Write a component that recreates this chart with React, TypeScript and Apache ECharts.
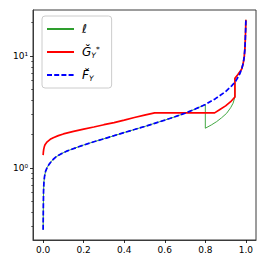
import React, { useEffect, useRef } from 'react';
import * as echarts from 'echarts';

// F̆_Y (blue dashed)
const blueX = [0, 0.001, 0.002, 0.004, 0.007, 0.012, 0.02, 0.03, 0.045, 0.065, 0.09, 0.12, 0.16, 0.2, 0.25, 0.3, 0.35, 0.4, 0.45, 0.5, 0.55, 0.6, 0.65, 0.7, 0.75, 0.8, 0.85, 0.9, 0.93, 0.95, 0.97, 0.98, 0.987, 0.992, 0.995, 0.997, 0.999, 1.0];
const blueY = [0.28, 0.45, 0.62, 0.75, 0.84, 0.93, 1.01, 1.08, 1.17, 1.26, 1.34, 1.42, 1.51, 1.6, 1.71, 1.82, 1.94, 2.07, 2.2, 2.34, 2.5, 2.67, 2.86, 3.08, 3.35, 3.68, 4.15, 4.8, 5.4, 5.95, 6.9, 7.7, 8.6, 9.8, 11.5, 13.5, 17.5, 21];

// Ğ*_Y (red)
const redX = [0, 0.001, 0.003, 0.006, 0.01, 0.02, 0.035, 0.05, 0.075, 0.1, 0.15, 0.2, 0.25, 0.3, 0.35, 0.4, 0.45, 0.5, 0.55, 0.846, 0.87, 0.9, 0.925, 0.946, 0.946, 0.96, 0.979, 0.987, 0.992, 0.995, 0.997, 0.999, 1.0];
const redY = [1.3, 1.38, 1.47, 1.55, 1.62, 1.71, 1.8, 1.86, 1.94, 2.01, 2.12, 2.22, 2.32, 2.43, 2.54, 2.67, 2.82, 2.96, 3.1, 3.1, 3.3, 3.58, 3.9, 4.3, 6.3, 6.8, 7.6, 8.6, 9.8, 11.5, 13.5, 17.5, 21];

// ℓ (green)
const greenX = [0, 0.001, 0.002, 0.004, 0.007, 0.012, 0.02, 0.03, 0.045, 0.065, 0.09, 0.12, 0.16, 0.2, 0.25, 0.3, 0.35, 0.4, 0.45, 0.5, 0.55, 0.6, 0.65, 0.7, 0.75, 0.8, 0.8, 0.83, 0.856, 0.88, 0.905, 0.925, 0.937, 0.946, 0.946, 0.96, 0.979, 0.987, 0.992, 0.995, 0.997, 0.999, 1.0];
const greenY = [0.28, 0.45, 0.62, 0.75, 0.84, 0.93, 1.01, 1.08, 1.17, 1.26, 1.34, 1.42, 1.51, 1.6, 1.71, 1.82, 1.94, 2.07, 2.2, 2.34, 2.5, 2.67, 2.86, 3.08, 3.35, 3.68, 2.26, 2.42, 2.59, 2.8, 3.07, 3.45, 3.78, 4.3, 6.3, 6.8, 7.6, 8.6, 9.8, 11.5, 13.5, 17.5, 21];

const xTicks = [0, 0.2, 0.4, 0.6, 0.8, 1.0];
const yMajorTicks = [1, 10];
const yMinorTicks = [0.3, 0.4, 0.5, 0.6, 0.7, 0.8, 0.9, 2, 3, 4, 5, 6, 7, 8, 9, 20];
const seriesNames = ['ℓ', 'Ğ*Y', 'F̆Y'];
const legendLabels: Record<string, string> = {
  'ℓ': '{m|ℓ}',
  'Ğ*Y': '{m|Ğ}{sub|Y}{sup|*}',
  'F̆Y': '{m|F\u0306}{sub|Y}',
};

const zip = (xs: number[], ys: number[]) => xs.map((x, i) => [x, ys[i]]);
const SUP: Record<string, string> = { '0': '⁰', '1': '¹', '2': '²', '-': '⁻' };
const font = 'DejaVu Sans';

export default function App() {
  const ref = useRef<HTMLDivElement>(null);
  useEffect(() => {
    if (!ref.current) return;
    const chart = echarts.init(ref.current, undefined, { renderer: 'svg' });
    const yMin = 0.227;
    const yMax = 25.7;
    chart.setOption({
      animation: false,
      backgroundColor: '#ffffff',
      grid: {
        left: 33, right: 10, top: 10, bottom: 26,
        show: true, borderColor: '#3a3a3a', borderWidth: 1, backgroundColor: 'transparent',
      },
      legend: {
        orient: 'vertical',
        left: 42,
        top: 16,
        itemWidth: 27,
        itemHeight: 12,
        itemGap: 10,
        padding: [7, 12, 6, 4],
        backgroundColor: 'rgba(255,255,255,0.85)',
        borderColor: '#cccccc',
        borderWidth: 1,
        borderRadius: 3,
        data: seriesNames,
        itemStyle: { opacity: 0, borderWidth: 0 },
        formatter: (name: string) => legendLabels[name] ?? name,
        textStyle: {
          padding: [0, 0, 0, 3],
          rich: {
            m: { fontFamily: font, fontStyle: 'italic', fontSize: 12, color: '#000', lineHeight: 14 },
            sup: { fontFamily: font, fontStyle: 'italic', fontSize: 7.5, color: '#000', lineHeight: 7, verticalAlign: 'top' },
            sub: { fontFamily: font, fontStyle: 'italic', fontSize: 7.5, color: '#000', lineHeight: 7, verticalAlign: 'bottom' },
          },
        },
      },
      xAxis: {
        type: 'value',
        min: -0.05,
        max: 1.05,
        splitLine: { show: false },
        axisLine: { show: true, onZero: false, lineStyle: { color: '#3a3a3a', width: 1 } },
        axisTick: { show: true, length: 3, customValues: xTicks, lineStyle: { color: '#000', width: 0.8 } },
        axisLabel: {
          customValues: xTicks,
          formatter: (v: number) => v.toFixed(1),
          fontFamily: font, fontSize: 9, color: '#000', margin: 5,
        },
      },
      yAxis: [
        {
          type: 'log',
          logBase: 10,
          min: yMin,
          max: yMax,
          position: 'left',
          splitLine: { show: false },
          axisLine: { show: true, onZero: false, lineStyle: { color: '#3a3a3a', width: 1 } },
          axisTick: { show: true, length: 3, customValues: yMajorTicks, lineStyle: { color: '#000', width: 0.8 } },
          axisLabel: {
            customValues: yMajorTicks,
            formatter: (v: number) => '10' + String(Math.round(Math.log10(v))).split('').map((c) => SUP[c] ?? c).join(''),
            fontFamily: font, fontSize: 9, color: '#000', margin: 5,
          },
        },
        {
          type: 'log',
          logBase: 10,
          min: yMin,
          max: yMax,
          position: 'left',
          splitLine: { show: false },
          axisLine: { show: false, onZero: false },
          axisTick: { show: true, length: 1.8, customValues: yMinorTicks, lineStyle: { color: '#000', width: 0.6 } },
          axisLabel: { show: false },
        },
      ],
      series: [
        {
          name: seriesNames[0], type: 'line', data: zip(greenX, greenY),
          showSymbol: false, symbol: 'none', color: '#2e9e2e',
          lineStyle: { color: '#2e9e2e', width: 0.9 }, z: 2,
        },
        {
          name: seriesNames[1], type: 'line', data: zip(redX, redY),
          showSymbol: false, symbol: 'none', color: '#ff0000',
          lineStyle: { color: '#ff0000', width: 1.7 }, z: 3,
        },
        {
          name: seriesNames[2], type: 'line', data: zip(blueX, blueY),
          showSymbol: false, symbol: 'none', color: '#0000ff',
          lineStyle: { color: '#0000ff', width: 1.7, type: [5, 2.2] }, z: 4,
        },
      ],
    });
    return () => chart.dispose();
  }, []);
  return <div ref={ref} style={{ position: 'fixed', left: 0, top: 0, width: 266, height: 266 }} />;
}
